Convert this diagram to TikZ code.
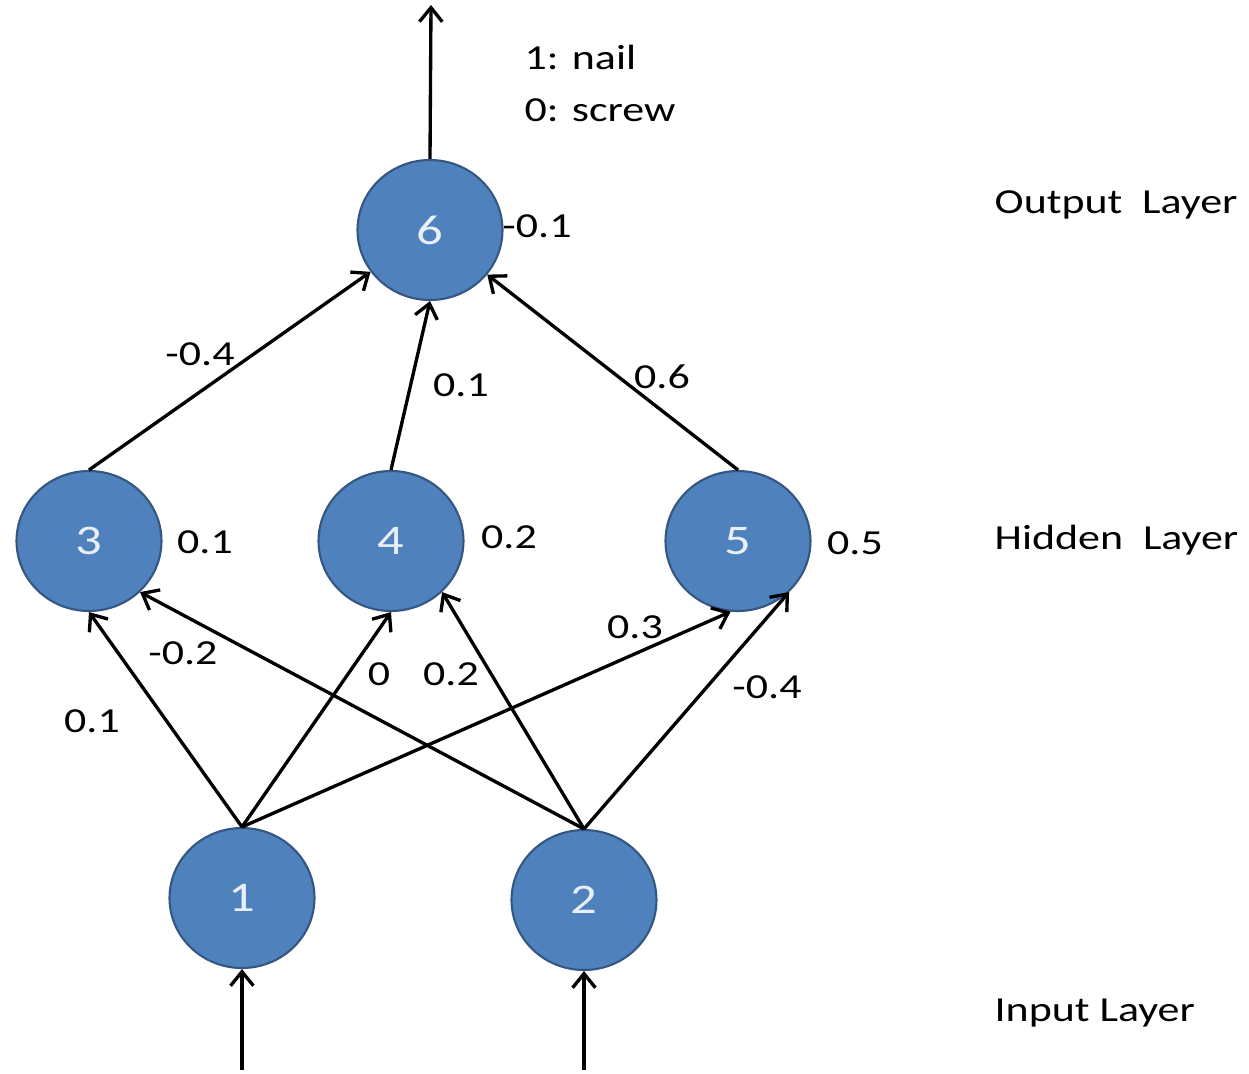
\documentclass[tikz,border=0pt]{standalone}
\usepackage{fontspec}
\setmainfont{Carlito}[FakeStretch=1.25]
\usetikzlibrary{shapes.geometric,arrows.meta}

\definecolor{neuronfill}{RGB}{79,129,189}
\definecolor{neuronedge}{RGB}{52,86,128}
\definecolor{neurontext}{RGB}{232,239,248}

\tikzset{
    neuron/.style={draw=neuronedge,
        fill=neuronfill,
        ellipse,
        line width=1.2pt,
        text=neurontext,
        font=\fontsize{24}{28}\selectfont,
        minimum width=2.9cm,
        minimum height=2.8cm},
    layerlabel/.style={anchor=west, inner sep=0pt}
}

\begin{document}
\begin{tikzpicture}[x=0.02cm,y=-0.02cm,
    font=\fontsize{20}{24}\selectfont,
    line width=1.9pt,
    >={Straight Barb[length=8pt,width=13pt]}]

\useasboundingbox (0,0) rectangle (1249,1073);

% Input layer
\node[neuron] (n1) at (242,898) {1};
\node[neuron] (n2) at (584,900) {2};

% Hidden layer
\node[neuron] (n3) at (89,541) {3};
\node[neuron] (n4) at (391,541) {4};
\node[neuron] (n5) at (738,541) {5};

% Output layer
\node[neuron] (n6) at (430,230) {6};

% Free ends of the in- and output arrows
\coordinate (in1) at (242,1070);
\coordinate (in2) at (584,1070);
\coordinate (out) at (431,5);

% Arrows
\path[->] (in1) edge (n1.south)
    (in2) edge (n2.south)
    (n6.north) edge (out);

\path[->] (n1.north) edge (n3.south)
    (n1.north) edge (n4.south)
    (n1.north) edge (n5.-96)
    (n2.north) edge (n3.-45)
    (n2.north) edge (n4.-45)
    (n2.north) edge (n5.-45);

\path[->] (n3.north) edge (n6)
    (n4.north) edge (n6.south)
    (n5.north) edge (n6);

% Weights
\node (w36) at (200,354) {-0.4};
\node (w46) at (461,385) {0.1};
\node (w56) at (662,377) {0.6};
\node (w13) at (92,721) {0.1};
\node (w23) at (183,653) {-0.2};
\node (w14) at (379,674) {0};
\node (w24) at (451,674) {0.2};
\node (w15) at (635,627) {0.3};
\node (w25) at (767,687) {-0.4};

% Biases
\node (b3) at (205,542) {0.1};
\node (b4) at (509,537) {0.2};
\node (b5) at (855,543) {0.5};
\node (b6) at (537,226) {-0.1};

% Classes
\node[layerlabel] (nail) at (523,57) {1: nail};
\node[layerlabel] (screw) at (523,110) {0: screw};

% Layer names
\node[layerlabel] (outlayer) at (993,205) {Output\ \ Layer};
\node[layerlabel] (hidlayer) at (993,540) {Hidden\ \ Layer};
\node[layerlabel] (inlayer) at (993,1013) {Input Layer};

\end{tikzpicture}
\end{document}
